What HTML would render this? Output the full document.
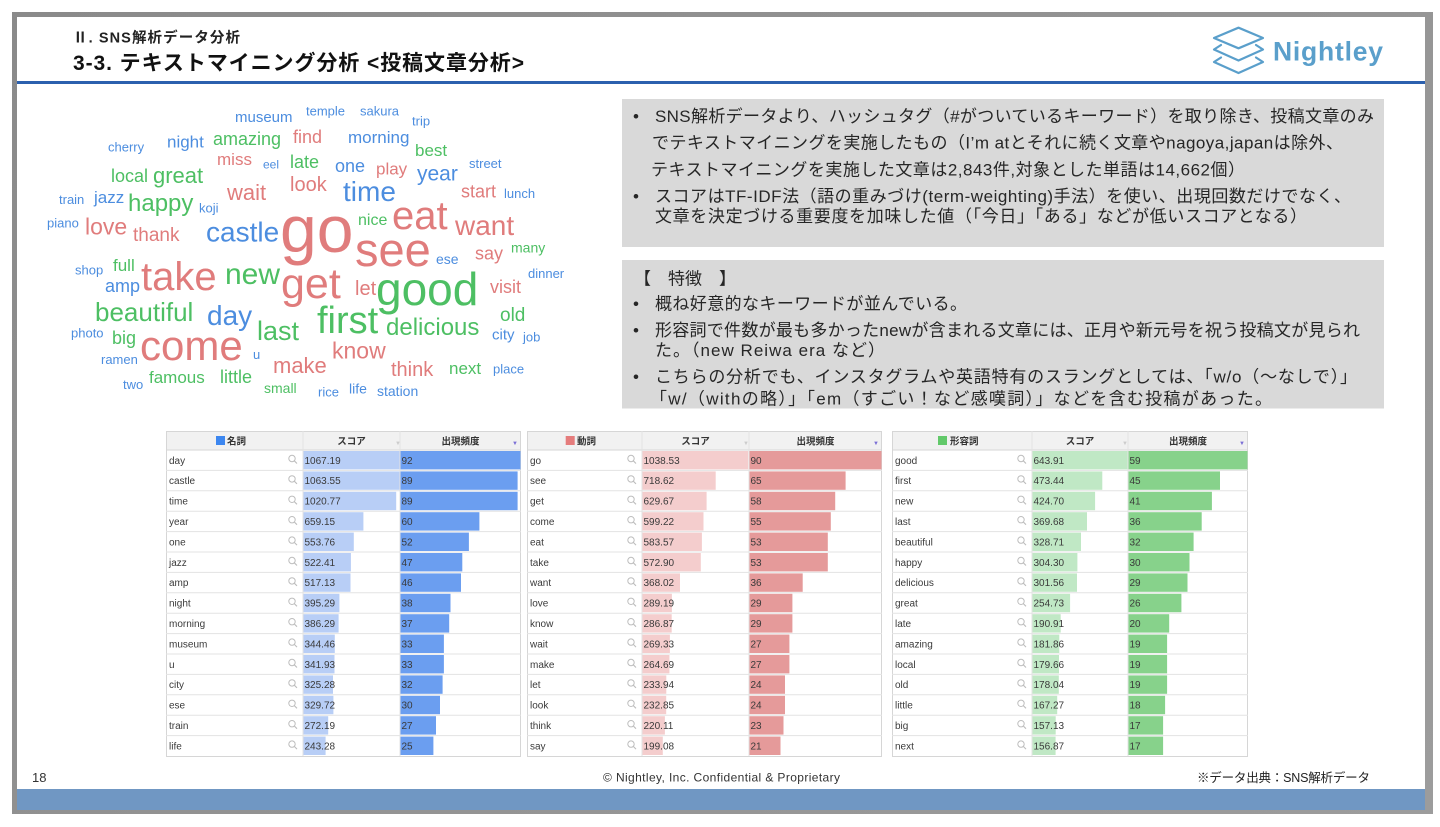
<!DOCTYPE html>
<html lang="ja">
<head>
<meta charset="utf-8">
<style>
html,body{margin:0;padding:0;background:#fff;}
body{width:1440px;height:827px;overflow:hidden;position:relative;font-family:"Liberation Sans","Noto Sans CJK JP",sans-serif;}
#frame{position:absolute;left:12px;top:12px;width:1421px;height:802px;background:linear-gradient(135deg,#8a8a8a,#9c9c9c);}
#slide{position:absolute;left:17px;top:17px;width:1408px;height:793px;background:#fff;}
#band{position:absolute;left:17px;top:789px;width:1408px;height:21px;background:#7097c3;}
#rule{position:absolute;left:17px;top:81px;width:1408px;height:3px;background:#2b60ae;}
svg{position:absolute;left:0;top:0;}
text{font-family:"Liberation Sans","Noto Sans CJK JP",sans-serif;}
.b{fill:#4c8ddf;}
.r{fill:#e07c7c;}
.g{fill:#4dbf63;}
.tx{font-size:17px;fill:#262626;}
.n{font-size:10px;fill:#3a3a3a;}
.h{font-size:9.5px;font-weight:bold;fill:#333;}
.s1{fill:#b8cef6;}.f1{fill:#6b9ef0;}
.s2{fill:#f4cdcd;}.f2{fill:#e59a9a;}
.s3{fill:#c0e8c5;}.f3{fill:#87d28b;}
.gl{stroke:#e3e3e3;stroke-width:1;fill:none;}
</style>
</head>
<body>
<div id="frame"></div>
<div id="slide"></div>
<div id="rule"></div>
<div id="band"></div>

<svg width="1440" height="827" viewBox="0 0 1440 827">
<defs>
<g id="mg"><circle cx="0" cy="0" r="3.2" fill="none" stroke="#bdbdbd" stroke-width="1"/><line x1="2.3" y1="2.3" x2="5" y2="5" stroke="#bdbdbd" stroke-width="1.1"/></g>
</defs>

<!-- Header -->
<text x="73" y="42.5" font-size="14.5" font-weight="bold" fill="#222" textLength="167" lengthAdjust="spacing">Ⅱ. SNS解析データ分析</text>
<text x="73" y="70" font-size="21" font-weight="bold" fill="#111" textLength="451" lengthAdjust="spacing">3-3. テキストマイニング分析 &lt;投稿文章分析&gt;</text>

<!-- Logo -->
<g fill="none" stroke="#5a9fcb" stroke-width="2.2" stroke-linejoin="round" stroke-linecap="round">
<polygon points="1238.5,27.7 1263,38 1238.5,48.3 1214,38"/>
<polyline points="1221,45 1214,49.5 1238.5,60.5 1263,49.5 1256,45"/>
<polyline points="1221,57.5 1214,62 1238.5,73 1263,62 1256,57.5"/>
</g>
<text x="1273" y="60.7" font-size="26.5" font-weight="bold" fill="#5a9fcb" textLength="110" lengthAdjust="spacing">Nightley</text>

<!-- Word cloud -->
<g>
<text class="b" x="235" y="122" font-size="15">museum</text>
<text class="b" x="306" y="115.5" font-size="13">temple</text>
<text class="b" x="360" y="115.5" font-size="13">sakura</text>
<text class="b" x="412" y="125.5" font-size="13">trip</text>
<text class="b" x="108" y="151.5" font-size="13">cherry</text>
<text class="b" x="167" y="147.5" font-size="17">night</text>
<text class="b" x="348" y="143" font-size="17">morning</text>
<text class="b" x="263" y="168.5" font-size="12">eel</text>
<text class="b" x="335" y="172" font-size="18">one</text>
<text class="b" x="469" y="168" font-size="13">street</text>
<text class="b" x="417" y="180.5" font-size="21">year</text>
<text class="b" x="343" y="201" font-size="28">time</text>
<text class="b" x="504" y="198" font-size="13">lunch</text>
<text class="b" x="59" y="204" font-size="13">train</text>
<text class="b" x="94" y="203" font-size="17">jazz</text>
<text class="b" x="199" y="212.5" font-size="13">koji</text>
<text class="b" x="47" y="227.5" font-size="13">piano</text>
<text class="b" x="206" y="241.5" font-size="28">castle</text>
<text class="b" x="436" y="264" font-size="14">ese</text>
<text class="b" x="75" y="274.5" font-size="13">shop</text>
<text class="b" x="528" y="278" font-size="13">dinner</text>
<text class="b" x="105" y="292" font-size="18">amp</text>
<text class="b" x="207" y="325" font-size="28">day</text>
<text class="b" x="492" y="339.5" font-size="15">city</text>
<text class="b" x="523" y="341.5" font-size="13">job</text>
<text class="b" x="71" y="337.5" font-size="13">photo</text>
<text class="b" x="253" y="359" font-size="13">u</text>
<text class="b" x="101" y="364" font-size="13">ramen</text>
<text class="b" x="493" y="373.5" font-size="13">place</text>
<text class="b" x="123" y="389" font-size="13">two</text>
<text class="b" x="318" y="396.5" font-size="13">rice</text>
<text class="b" x="349" y="393.5" font-size="14">life</text>
<text class="b" x="377" y="396" font-size="14">station</text>

<text class="r" x="293" y="143" font-size="18">find</text>
<text class="r" x="217" y="165" font-size="17">miss</text>
<text class="r" x="376" y="174.5" font-size="17">play</text>
<text class="r" x="290" y="191" font-size="20">look</text>
<text class="r" x="461" y="197.5" font-size="18">start</text>
<text class="r" x="227" y="200" font-size="22">wait</text>
<text class="r" x="392" y="229" font-size="40">eat</text>
<text class="r" x="455" y="235" font-size="28">want</text>
<text class="r" x="85" y="234.5" font-size="23">love</text>
<text class="r" x="133" y="241" font-size="19">thank</text>
<text class="r" x="280" y="252" font-size="66">go</text>
<text class="r" x="355" y="266" font-size="47">see</text>
<text class="r" x="475" y="259.5" font-size="18">say</text>
<text class="r" x="141" y="290" font-size="40">take</text>
<text class="r" x="281" y="298" font-size="43">get</text>
<text class="r" x="355" y="295" font-size="20">let</text>
<text class="r" x="490" y="293" font-size="18">visit</text>
<text class="r" x="140" y="360" font-size="42">come</text>
<text class="r" x="332" y="358.5" font-size="23">know</text>
<text class="r" x="273" y="373" font-size="22">make</text>
<text class="r" x="391" y="376" font-size="20">think</text>

<text class="g" x="213" y="145" font-size="18">amazing</text>
<text class="g" x="415" y="156" font-size="17">best</text>
<text class="g" x="290" y="168" font-size="18">late</text>
<text class="g" x="111" y="182" font-size="18">local</text>
<text class="g" x="153" y="183" font-size="22">great</text>
<text class="g" x="128" y="211" font-size="24">happy</text>
<text class="g" x="358" y="225" font-size="16">nice</text>
<text class="g" x="511" y="252.5" font-size="14">many</text>
<text class="g" x="113" y="271" font-size="17">full</text>
<text class="g" x="225" y="284" font-size="30">new</text>
<text class="g" x="376" y="305" font-size="46">good</text>
<text class="g" x="95" y="321" font-size="26">beautiful</text>
<text class="g" x="317" y="333" font-size="38">first</text>
<text class="g" x="500" y="321" font-size="19">old</text>
<text class="g" x="386" y="335" font-size="24">delicious</text>
<text class="g" x="112" y="344" font-size="18">big</text>
<text class="g" x="257" y="340" font-size="27">last</text>
<text class="g" x="149" y="383" font-size="17">famous</text>
<text class="g" x="220" y="383" font-size="18">little</text>
<text class="g" x="264" y="393" font-size="14">small</text>
<text class="g" x="449" y="374" font-size="17">next</text>
</g>

<!-- Text boxes -->
<rect x="622" y="99" width="762" height="148" fill="#d9d9d9"/>
<rect x="622" y="260" width="762" height="148.5" fill="#d9d9d9"/>

<text class="tx" x="633" y="122">•</text>
<text class="tx" x="655" y="122" textLength="719" lengthAdjust="spacing">SNS解析データより、ハッシュタグ（#がついているキーワード）を取り除き、投稿文章のみ</text>
<text class="tx" x="652" y="148.7" textLength="691" lengthAdjust="spacing">でテキストマイニングを実施したもの（I’m atとそれに続く文章やnagoya,japanは除外、</text>
<text class="tx" x="651" y="175.3" textLength="594" lengthAdjust="spacing">テキストマイニングを実施した文章は2,843件,対象とした単語は14,662個）</text>
<text class="tx" x="633" y="202">•</text>
<text class="tx" x="655" y="202" textLength="696" lengthAdjust="spacing">スコアはTF-IDF法（語の重みづけ(term-weighting)手法）を使い、出現回数だけでなく、</text>
<text class="tx" x="655" y="222" textLength="652" lengthAdjust="spacing">文章を決定づける重要度を加味した値（「今日」「ある」などが低いスコアとなる）</text>

<text class="tx" x="634" y="284.3" textLength="102" lengthAdjust="spacing">【　特徴　】</text>
<text class="tx" x="633" y="309.3">•</text>
<text class="tx" x="655" y="309.3" textLength="312" lengthAdjust="spacing">概ね好意的なキーワードが並んでいる。</text>
<text class="tx" x="633" y="336">•</text>
<text class="tx" x="655" y="336" textLength="705" lengthAdjust="spacing">形容詞で件数が最も多かったnewが含まれる文章には、正月や新元号を祝う投稿文が見られ</text>
<text class="tx" x="655" y="356" textLength="230" lengthAdjust="spacing">た。（new Reiwa era など）</text>
<text class="tx" x="633" y="382.7">•</text>
<text class="tx" x="655" y="382.7" textLength="702" lengthAdjust="spacing">こちらの分析でも、インスタグラムや英語特有のスラングとしては、「w/o（～なしで）」</text>
<text class="tx" x="650" y="404.3" textLength="622" lengthAdjust="spacing">「w/（withの略）」「em（すごい！など感嘆詞）」などを含む投稿があった。</text>

<!-- Table 1 -->
<g transform="translate(166,431)">
<rect x="0.5" y="0.5" width="354" height="325" fill="#fff" stroke="#d6d6d6"/>
<rect x="0.5" y="0.5" width="354" height="18.5" fill="#f1f1f1" stroke="#d6d6d6"/>
<path class="gl" d="M0 39.4H355M0 59.8H355M0 80.2H355M0 100.6H355M0 121H355M0 141.4H355M0 161.8H355M0 182.2H355M0 202.6H355M0 223H355M0 243.4H355M0 263.8H355M0 284.2H355M0 304.6H355"/>
<rect x="50" y="5" width="9" height="9" fill="#3d87f0"/>
<text class="h" x="61" y="13.5">名詞</text>
<text class="h" x="185.5" y="13.5" text-anchor="middle">スコア</text>
<text x="229" y="14" font-size="6" fill="#ccc">▼</text>
<text class="h" x="294.5" y="13.5" text-anchor="middle">出現頻度</text>
<text x="346" y="14" font-size="6" fill="#7b6fd6">▼</text>
<g transform="translate(0,19)"><rect class="s1" x="137.5" y="1" width="96" height="18.4"/><rect class="f1" x="234.5" y="1" width="120" height="18.4"/><text class="n" x="3" y="13.8">day</text><text class="n" x="138.5" y="13.8">1067.19</text><text class="n" x="235.5" y="13.8">92</text><use href="#mg" x="126" y="8.5"/></g>
<g transform="translate(0,39.4)"><rect class="s1" x="137.5" y="1" width="96" height="18.4"/><rect class="f1" x="234.5" y="1" width="117.1" height="18.4"/><text class="n" x="3" y="13.8">castle</text><text class="n" x="138.5" y="13.8">1063.55</text><text class="n" x="235.5" y="13.8">89</text><use href="#mg" x="126" y="8.5"/></g>
<g transform="translate(0,59.8)"><rect class="s1" x="137.5" y="1" width="92.7" height="18.4"/><rect class="f1" x="234.5" y="1" width="117.1" height="18.4"/><text class="n" x="3" y="13.8">time</text><text class="n" x="138.5" y="13.8">1020.77</text><text class="n" x="235.5" y="13.8">89</text><use href="#mg" x="126" y="8.5"/></g>
<g transform="translate(0,80.2)"><rect class="s1" x="137.5" y="1" width="59.9" height="18.4"/><rect class="f1" x="234.5" y="1" width="78.9" height="18.4"/><text class="n" x="3" y="13.8">year</text><text class="n" x="138.5" y="13.8">659.15</text><text class="n" x="235.5" y="13.8">60</text><use href="#mg" x="126" y="8.5"/></g>
<g transform="translate(0,100.6)"><rect class="s1" x="137.5" y="1" width="50.3" height="18.4"/><rect class="f1" x="234.5" y="1" width="68.4" height="18.4"/><text class="n" x="3" y="13.8">one</text><text class="n" x="138.5" y="13.8">553.76</text><text class="n" x="235.5" y="13.8">52</text><use href="#mg" x="126" y="8.5"/></g>
<g transform="translate(0,121)"><rect class="s1" x="137.5" y="1" width="47.4" height="18.4"/><rect class="f1" x="234.5" y="1" width="61.8" height="18.4"/><text class="n" x="3" y="13.8">jazz</text><text class="n" x="138.5" y="13.8">522.41</text><text class="n" x="235.5" y="13.8">47</text><use href="#mg" x="126" y="8.5"/></g>
<g transform="translate(0,141.4)"><rect class="s1" x="137.5" y="1" width="47" height="18.4"/><rect class="f1" x="234.5" y="1" width="60.5" height="18.4"/><text class="n" x="3" y="13.8">amp</text><text class="n" x="138.5" y="13.8">517.13</text><text class="n" x="235.5" y="13.8">46</text><use href="#mg" x="126" y="8.5"/></g>
<g transform="translate(0,161.8)"><rect class="s1" x="137.5" y="1" width="35.9" height="18.4"/><rect class="f1" x="234.5" y="1" width="50" height="18.4"/><text class="n" x="3" y="13.8">night</text><text class="n" x="138.5" y="13.8">395.29</text><text class="n" x="235.5" y="13.8">38</text><use href="#mg" x="126" y="8.5"/></g>
<g transform="translate(0,182.2)"><rect class="s1" x="137.5" y="1" width="35.1" height="18.4"/><rect class="f1" x="234.5" y="1" width="48.7" height="18.4"/><text class="n" x="3" y="13.8">morning</text><text class="n" x="138.5" y="13.8">386.29</text><text class="n" x="235.5" y="13.8">37</text><use href="#mg" x="126" y="8.5"/></g>
<g transform="translate(0,202.6)"><rect class="s1" x="137.5" y="1" width="31.3" height="18.4"/><rect class="f1" x="234.5" y="1" width="43.4" height="18.4"/><text class="n" x="3" y="13.8">museum</text><text class="n" x="138.5" y="13.8">344.46</text><text class="n" x="235.5" y="13.8">33</text><use href="#mg" x="126" y="8.5"/></g>
<g transform="translate(0,223)"><rect class="s1" x="137.5" y="1" width="31" height="18.4"/><rect class="f1" x="234.5" y="1" width="43.4" height="18.4"/><text class="n" x="3" y="13.8">u</text><text class="n" x="138.5" y="13.8">341.93</text><text class="n" x="235.5" y="13.8">33</text><use href="#mg" x="126" y="8.5"/></g>
<g transform="translate(0,243.4)"><rect class="s1" x="137.5" y="1" width="29.5" height="18.4"/><rect class="f1" x="234.5" y="1" width="42.1" height="18.4"/><text class="n" x="3" y="13.8">city</text><text class="n" x="138.5" y="13.8">325.28</text><text class="n" x="235.5" y="13.8">32</text><use href="#mg" x="126" y="8.5"/></g>
<g transform="translate(0,263.8)"><rect class="s1" x="137.5" y="1" width="29.9" height="18.4"/><rect class="f1" x="234.5" y="1" width="39.5" height="18.4"/><text class="n" x="3" y="13.8">ese</text><text class="n" x="138.5" y="13.8">329.72</text><text class="n" x="235.5" y="13.8">30</text><use href="#mg" x="126" y="8.5"/></g>
<g transform="translate(0,284.2)"><rect class="s1" x="137.5" y="1" width="24.7" height="18.4"/><rect class="f1" x="234.5" y="1" width="35.5" height="18.4"/><text class="n" x="3" y="13.8">train</text><text class="n" x="138.5" y="13.8">272.19</text><text class="n" x="235.5" y="13.8">27</text><use href="#mg" x="126" y="8.5"/></g>
<g transform="translate(0,304.6)"><rect class="s1" x="137.5" y="1" width="22.1" height="18.4"/><rect class="f1" x="234.5" y="1" width="32.9" height="18.4"/><text class="n" x="3" y="13.8">life</text><text class="n" x="138.5" y="13.8">243.28</text><text class="n" x="235.5" y="13.8">25</text><use href="#mg" x="126" y="8.5"/></g>
<path class="gl" d="M137 0V325M234 0V325"/>
</g>

<!-- Table 2 -->
<g transform="translate(527,431)">
<rect x="0.5" y="0.5" width="354" height="325" fill="#fff" stroke="#d6d6d6"/>
<rect x="0.5" y="0.5" width="354" height="18.5" fill="#f1f1f1" stroke="#d6d6d6"/>
<path class="gl" d="M0 39.4H355M0 59.8H355M0 80.2H355M0 100.6H355M0 121H355M0 141.4H355M0 161.8H355M0 182.2H355M0 202.6H355M0 223H355M0 243.4H355M0 263.8H355M0 284.2H355M0 304.6H355"/>
<rect x="38.7" y="5" width="9" height="9" fill="#e57c7c"/>
<text class="h" x="50" y="13.5">動詞</text>
<text class="h" x="168.5" y="13.5" text-anchor="middle">スコア</text>
<text x="216" y="14" font-size="6" fill="#ccc">▼</text>
<text class="h" x="288.5" y="13.5" text-anchor="middle">出現頻度</text>
<text x="346" y="14" font-size="6" fill="#7b6fd6">▼</text>
<g transform="translate(0,19)"><rect class="s2" x="115.5" y="1" width="105.7" height="18.4"/><rect class="f2" x="222.5" y="1" width="132" height="18.4"/><text class="n" x="3" y="13.8">go</text><text class="n" x="116.5" y="13.8">1038.53</text><text class="n" x="223.5" y="13.8">90</text><use href="#mg" x="104" y="8.5"/></g>
<g transform="translate(0,39.4)"><rect class="s2" x="115.5" y="1" width="73.2" height="18.4"/><rect class="f2" x="222.5" y="1" width="96.1" height="18.4"/><text class="n" x="3" y="13.8">see</text><text class="n" x="116.5" y="13.8">718.62</text><text class="n" x="223.5" y="13.8">65</text><use href="#mg" x="104" y="8.5"/></g>
<g transform="translate(0,59.8)"><rect class="s2" x="115.5" y="1" width="64.1" height="18.4"/><rect class="f2" x="222.5" y="1" width="85.7" height="18.4"/><text class="n" x="3" y="13.8">get</text><text class="n" x="116.5" y="13.8">629.67</text><text class="n" x="223.5" y="13.8">58</text><use href="#mg" x="104" y="8.5"/></g>
<g transform="translate(0,80.2)"><rect class="s2" x="115.5" y="1" width="61" height="18.4"/><rect class="f2" x="222.5" y="1" width="81.3" height="18.4"/><text class="n" x="3" y="13.8">come</text><text class="n" x="116.5" y="13.8">599.22</text><text class="n" x="223.5" y="13.8">55</text><use href="#mg" x="104" y="8.5"/></g>
<g transform="translate(0,100.6)"><rect class="s2" x="115.5" y="1" width="59.4" height="18.4"/><rect class="f2" x="222.5" y="1" width="78.3" height="18.4"/><text class="n" x="3" y="13.8">eat</text><text class="n" x="116.5" y="13.8">583.57</text><text class="n" x="223.5" y="13.8">53</text><use href="#mg" x="104" y="8.5"/></g>
<g transform="translate(0,121)"><rect class="s2" x="115.5" y="1" width="58.3" height="18.4"/><rect class="f2" x="222.5" y="1" width="78.3" height="18.4"/><text class="n" x="3" y="13.8">take</text><text class="n" x="116.5" y="13.8">572.90</text><text class="n" x="223.5" y="13.8">53</text><use href="#mg" x="104" y="8.5"/></g>
<g transform="translate(0,141.4)"><rect class="s2" x="115.5" y="1" width="37.5" height="18.4"/><rect class="f2" x="222.5" y="1" width="53.2" height="18.4"/><text class="n" x="3" y="13.8">want</text><text class="n" x="116.5" y="13.8">368.02</text><text class="n" x="223.5" y="13.8">36</text><use href="#mg" x="104" y="8.5"/></g>
<g transform="translate(0,161.8)"><rect class="s2" x="115.5" y="1" width="29.4" height="18.4"/><rect class="f2" x="222.5" y="1" width="42.9" height="18.4"/><text class="n" x="3" y="13.8">love</text><text class="n" x="116.5" y="13.8">289.19</text><text class="n" x="223.5" y="13.8">29</text><use href="#mg" x="104" y="8.5"/></g>
<g transform="translate(0,182.2)"><rect class="s2" x="115.5" y="1" width="29.2" height="18.4"/><rect class="f2" x="222.5" y="1" width="42.9" height="18.4"/><text class="n" x="3" y="13.8">know</text><text class="n" x="116.5" y="13.8">286.87</text><text class="n" x="223.5" y="13.8">29</text><use href="#mg" x="104" y="8.5"/></g>
<g transform="translate(0,202.6)"><rect class="s2" x="115.5" y="1" width="27.4" height="18.4"/><rect class="f2" x="222.5" y="1" width="39.9" height="18.4"/><text class="n" x="3" y="13.8">wait</text><text class="n" x="116.5" y="13.8">269.33</text><text class="n" x="223.5" y="13.8">27</text><use href="#mg" x="104" y="8.5"/></g>
<g transform="translate(0,223)"><rect class="s2" x="115.5" y="1" width="26.9" height="18.4"/><rect class="f2" x="222.5" y="1" width="39.9" height="18.4"/><text class="n" x="3" y="13.8">make</text><text class="n" x="116.5" y="13.8">264.69</text><text class="n" x="223.5" y="13.8">27</text><use href="#mg" x="104" y="8.5"/></g>
<g transform="translate(0,243.4)"><rect class="s2" x="115.5" y="1" width="23.8" height="18.4"/><rect class="f2" x="222.5" y="1" width="35.5" height="18.4"/><text class="n" x="3" y="13.8">let</text><text class="n" x="116.5" y="13.8">233.94</text><text class="n" x="223.5" y="13.8">24</text><use href="#mg" x="104" y="8.5"/></g>
<g transform="translate(0,263.8)"><rect class="s2" x="115.5" y="1" width="23.7" height="18.4"/><rect class="f2" x="222.5" y="1" width="35.5" height="18.4"/><text class="n" x="3" y="13.8">look</text><text class="n" x="116.5" y="13.8">232.85</text><text class="n" x="223.5" y="13.8">24</text><use href="#mg" x="104" y="8.5"/></g>
<g transform="translate(0,284.2)"><rect class="s2" x="115.5" y="1" width="22.4" height="18.4"/><rect class="f2" x="222.5" y="1" width="34" height="18.4"/><text class="n" x="3" y="13.8">think</text><text class="n" x="116.5" y="13.8">220.11</text><text class="n" x="223.5" y="13.8">23</text><use href="#mg" x="104" y="8.5"/></g>
<g transform="translate(0,304.6)"><rect class="s2" x="115.5" y="1" width="20.3" height="18.4"/><rect class="f2" x="222.5" y="1" width="31" height="18.4"/><text class="n" x="3" y="13.8">say</text><text class="n" x="116.5" y="13.8">199.08</text><text class="n" x="223.5" y="13.8">21</text><use href="#mg" x="104" y="8.5"/></g>
<path class="gl" d="M115 0V325M222 0V325"/>
</g>

<!-- Table 3 -->
<g transform="translate(892,431)">
<rect x="0.5" y="0.5" width="355" height="325" fill="#fff" stroke="#d6d6d6"/>
<rect x="0.5" y="0.5" width="355" height="18.5" fill="#f1f1f1" stroke="#d6d6d6"/>
<path class="gl" d="M0 39.4H356M0 59.8H356M0 80.2H356M0 100.6H356M0 121H356M0 141.4H356M0 161.8H356M0 182.2H356M0 202.6H356M0 223H356M0 243.4H356M0 263.8H356M0 284.2H356M0 304.6H356"/>
<rect x="46" y="5" width="9" height="9" fill="#62c96a"/>
<text class="h" x="58" y="13.5">形容詞</text>
<text class="h" x="188" y="13.5" text-anchor="middle">スコア</text>
<text x="230" y="14" font-size="6" fill="#ccc">▼</text>
<text class="h" x="296" y="13.5" text-anchor="middle">出現頻度</text>
<text x="347" y="14" font-size="6" fill="#7b6fd6">▼</text>
<g transform="translate(0,19)"><rect class="s3" x="140.5" y="1" width="95" height="18.4"/><rect class="f3" x="236.5" y="1" width="119" height="18.4"/><text class="n" x="3" y="13.8">good</text><text class="n" x="141.5" y="13.8">643.91</text><text class="n" x="237.5" y="13.8">59</text><use href="#mg" x="129" y="8.5"/></g>
<g transform="translate(0,39.4)"><rect class="s3" x="140.5" y="1" width="69.8" height="18.4"/><rect class="f3" x="236.5" y="1" width="91.5" height="18.4"/><text class="n" x="3" y="13.8">first</text><text class="n" x="141.5" y="13.8">473.44</text><text class="n" x="237.5" y="13.8">45</text><use href="#mg" x="129" y="8.5"/></g>
<g transform="translate(0,59.8)"><rect class="s3" x="140.5" y="1" width="62.6" height="18.4"/><rect class="f3" x="236.5" y="1" width="83.4" height="18.4"/><text class="n" x="3" y="13.8">new</text><text class="n" x="141.5" y="13.8">424.70</text><text class="n" x="237.5" y="13.8">41</text><use href="#mg" x="129" y="8.5"/></g>
<g transform="translate(0,80.2)"><rect class="s3" x="140.5" y="1" width="54.5" height="18.4"/><rect class="f3" x="236.5" y="1" width="73.2" height="18.4"/><text class="n" x="3" y="13.8">last</text><text class="n" x="141.5" y="13.8">369.68</text><text class="n" x="237.5" y="13.8">36</text><use href="#mg" x="129" y="8.5"/></g>
<g transform="translate(0,100.6)"><rect class="s3" x="140.5" y="1" width="48.5" height="18.4"/><rect class="f3" x="236.5" y="1" width="65.1" height="18.4"/><text class="n" x="3" y="13.8">beautiful</text><text class="n" x="141.5" y="13.8">328.71</text><text class="n" x="237.5" y="13.8">32</text><use href="#mg" x="129" y="8.5"/></g>
<g transform="translate(0,121)"><rect class="s3" x="140.5" y="1" width="44.9" height="18.4"/><rect class="f3" x="236.5" y="1" width="61" height="18.4"/><text class="n" x="3" y="13.8">happy</text><text class="n" x="141.5" y="13.8">304.30</text><text class="n" x="237.5" y="13.8">30</text><use href="#mg" x="129" y="8.5"/></g>
<g transform="translate(0,141.4)"><rect class="s3" x="140.5" y="1" width="44.5" height="18.4"/><rect class="f3" x="236.5" y="1" width="59" height="18.4"/><text class="n" x="3" y="13.8">delicious</text><text class="n" x="141.5" y="13.8">301.56</text><text class="n" x="237.5" y="13.8">29</text><use href="#mg" x="129" y="8.5"/></g>
<g transform="translate(0,161.8)"><rect class="s3" x="140.5" y="1" width="37.6" height="18.4"/><rect class="f3" x="236.5" y="1" width="52.9" height="18.4"/><text class="n" x="3" y="13.8">great</text><text class="n" x="141.5" y="13.8">254.73</text><text class="n" x="237.5" y="13.8">26</text><use href="#mg" x="129" y="8.5"/></g>
<g transform="translate(0,182.2)"><rect class="s3" x="140.5" y="1" width="28.2" height="18.4"/><rect class="f3" x="236.5" y="1" width="40.7" height="18.4"/><text class="n" x="3" y="13.8">late</text><text class="n" x="141.5" y="13.8">190.91</text><text class="n" x="237.5" y="13.8">20</text><use href="#mg" x="129" y="8.5"/></g>
<g transform="translate(0,202.6)"><rect class="s3" x="140.5" y="1" width="26.8" height="18.4"/><rect class="f3" x="236.5" y="1" width="38.6" height="18.4"/><text class="n" x="3" y="13.8">amazing</text><text class="n" x="141.5" y="13.8">181.86</text><text class="n" x="237.5" y="13.8">19</text><use href="#mg" x="129" y="8.5"/></g>
<g transform="translate(0,223)"><rect class="s3" x="140.5" y="1" width="26.5" height="18.4"/><rect class="f3" x="236.5" y="1" width="38.6" height="18.4"/><text class="n" x="3" y="13.8">local</text><text class="n" x="141.5" y="13.8">179.66</text><text class="n" x="237.5" y="13.8">19</text><use href="#mg" x="129" y="8.5"/></g>
<g transform="translate(0,243.4)"><rect class="s3" x="140.5" y="1" width="26.3" height="18.4"/><rect class="f3" x="236.5" y="1" width="38.6" height="18.4"/><text class="n" x="3" y="13.8">old</text><text class="n" x="141.5" y="13.8">178.04</text><text class="n" x="237.5" y="13.8">19</text><use href="#mg" x="129" y="8.5"/></g>
<g transform="translate(0,263.8)"><rect class="s3" x="140.5" y="1" width="24.7" height="18.4"/><rect class="f3" x="236.5" y="1" width="36.6" height="18.4"/><text class="n" x="3" y="13.8">little</text><text class="n" x="141.5" y="13.8">167.27</text><text class="n" x="237.5" y="13.8">18</text><use href="#mg" x="129" y="8.5"/></g>
<g transform="translate(0,284.2)"><rect class="s3" x="140.5" y="1" width="23.2" height="18.4"/><rect class="f3" x="236.5" y="1" width="34.6" height="18.4"/><text class="n" x="3" y="13.8">big</text><text class="n" x="141.5" y="13.8">157.13</text><text class="n" x="237.5" y="13.8">17</text><use href="#mg" x="129" y="8.5"/></g>
<g transform="translate(0,304.6)"><rect class="s3" x="140.5" y="1" width="23.1" height="18.4"/><rect class="f3" x="236.5" y="1" width="34.6" height="18.4"/><text class="n" x="3" y="13.8">next</text><text class="n" x="141.5" y="13.8">156.87</text><text class="n" x="237.5" y="13.8">17</text><use href="#mg" x="129" y="8.5"/></g>
<path class="gl" d="M140 0V325M236 0V325"/>
</g>

<!-- Footer -->
<text x="32" y="782" font-size="13" fill="#333">18</text>
<text x="603" y="781.5" font-size="12" fill="#333" textLength="237" lengthAdjust="spacing">© Nightley, Inc. Confidential &amp; Proprietary</text>
<text x="1197" y="782" font-size="12.5" fill="#222" textLength="173" lengthAdjust="spacing">※データ出典：SNS解析データ</text>
</svg>
</body>
</html>
